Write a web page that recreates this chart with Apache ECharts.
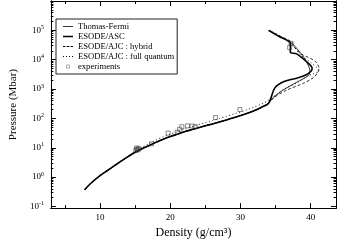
<!DOCTYPE html>
<html><head><meta charset="utf-8">
<script src="https://cdn.jsdelivr.net/npm/echarts@6/dist/echarts.min.js"></script>
<style>html,body{margin:0;padding:0;background:#fff}#c{width:338px;height:244px}</style>
</head><body><div id="c"></div>
<script>
// Shared lower branch (density g/cm3, pressure Mbar)
const lowX = [7.8, 8.5, 9, 10, 11, 12, 13, 14, 15, 16, 17, 18, 19, 20, 21, 22, 23, 24, 25, 26, 27, 28, 29, 30, 31, 32, 33, 34];
const lowP = [0.37, 0.56, 0.72, 1.12, 1.65, 2.4, 3.5, 5.0, 7.0, 9.3, 12, 15.5, 19.5, 24, 29, 35, 41, 48, 56, 65, 76, 89, 105, 125, 150, 185, 240, 330];
// Upper branches
const tfUpX = [34.6, 36, 38, 39.6, 39.9, 39.3, 38.3, 37.3, 35.5, 34.0];
const tfUpP = [500, 900, 1700, 2800, 4000, 9300, 20000, 36000, 62000, 100000];
const ascUpX = [34.9, 36.2, 38.0, 39.3, 40.1, 40.2, 39.9, 38.0, 37.1, 37.1, 35.5, 34.0];
const ascUpP = [1100, 1800, 2350, 3000, 4200, 5200, 6700, 15800, 17800, 36000, 62000, 100000];
const hybUpX = [34.8, 36.5, 39.0, 40.5, 41.2, 40.6, 38.6, 37.6, 37.3, 35.6, 34.1];
const hybUpP = [520, 900, 1600, 2600, 5000, 9000, 16000, 28000, 40000, 65000, 100000];
const fqLowX = [7.8, 8.5, 9, 10, 11, 12, 13, 14, 15, 16, 17, 18, 19, 20, 21, 22, 23, 24, 25, 26, 27, 28, 29, 30, 31, 32, 33, 34];
const fqLowP = [0.37, 0.56, 0.72, 1.12, 1.65, 2.45, 3.6, 5.2, 7.5, 10.5, 14, 18.5, 23.5, 29, 35, 43, 51, 61, 72, 85, 100, 118, 140, 165, 200, 245, 310, 420];
const fqUpX = [36.2, 38.0, 39.3, 40.5, 41.1, 41.0, 40.0, 38.5, 37.5, 35.6, 34.2];
const fqUpP = [1000, 1600, 2600, 3400, 3900, 5000, 8000, 15000, 30000, 64000, 100000];
// Experiments
const expX = [15.1, 15.3, 15.5, 15.2, 15.4, 17.33, 19.69, 20.99, 21.33, 21.65, 22.45, 23.12, 23.56, 26.45, 29.92, 37.2, 37.0];
const expP = [8.2, 8.9, 9.5, 9.8, 8.5, 13.6, 31.6, 34, 42.6, 52, 56, 55, 52, 107, 200, 36000, 26000];
// Ticks
const xMajor = [10, 20, 30, 40];
const xMinor = [5, 15, 25, 35];
const yMajor = [0.1, 1, 10, 100, 1000, 10000, 100000];
const yMinor = [];
for (let e = -1; e < 6; e++) for (let m = 2; m <= 9; m++) yMinor.push(m * Math.pow(10, e));

const zip = (xs, ys) => xs.map((x, i) => [x, ys[i]]);
const FONT = '"Liberation Serif", "DejaVu Serif", serif';
const ink = '#000';
const tfData = zip(lowX, lowP).concat(zip(tfUpX, tfUpP));
const ascData = zip(lowX, lowP).concat(zip(ascUpX, ascUpP));
const hybData = zip(lowX, lowP).concat(zip(hybUpX, hybUpP));
const fqData = zip(fqLowX, fqLowP).concat(zip(fqUpX, fqUpP));

const XMIN = 3, XMAX = 43.6, YMIN = 0.088, YMAX = 1e6;
function xAx(pos, ticks, len, labels, extra) {
  return Object.assign({
    type: 'value', position: pos, min: XMIN, max: XMAX,
    axisLine: { show: true, onZero: false, lineStyle: { color: ink, width: 1 } },
    axisTick: { show: true, inside: true, length: len, customValues: ticks, lineStyle: { color: ink } },
    axisLabel: labels ? { show: true, customValues: ticks, margin: 5, fontFamily: FONT, fontSize: 9, color: ink } : { show: false },
    splitLine: { show: false }
  }, extra || {});
}
function yAx(pos, ticks, len, labels, extra) {
  return Object.assign({
    type: 'log', logBase: 10, position: pos, min: YMIN, max: YMAX,
    axisLine: { show: true, onZero: false, lineStyle: { color: ink, width: 1 } },
    axisTick: { show: true, inside: true, length: len, customValues: ticks, lineStyle: { color: ink } },
    axisLabel: labels ? {
      show: true, customValues: ticks, margin: 7, fontFamily: FONT, color: ink,
      formatter: v => '{b|10}{s|' + Math.round(Math.log10(v)) + '}',
      rich: { b: { fontSize: 9, fontFamily: FONT, color: ink }, s: { fontSize: 6, fontFamily: FONT, color: ink, padding: [0, 0, 6, 0] } }
    } : { show: false },
    splitLine: { show: false }, minorTick: { show: false }
  }, extra || {});
}
// legend line icons (box 20x16, scaled to 10x8)
const B = 'path://M0,0M20,16';
const iconThin = B + 'M0,7.2h20v1.6h-20z';
const iconThick = B + 'M0,6.5h20v3h-20z';
const iconDash = B + 'M0,7.2h5v1.6h-5zM7.5,7.2h5v1.6h-5zM15,7.2h5v1.6h-5z';
const iconDot = B + 'M0,7.2h2v1.6h-2zM6,7.2h2v1.6h-2zM12,7.2h2v1.6h-2zM18,7.2h2v1.6h-2z';
const iconSq = B + 'M6.5,4.5h7v7h-7zM7.5,5.5v5h5v-5z';

const chart = echarts.init(document.getElementById('c'), null, { renderer: 'canvas' });
chart.setOption({
  animation: false,
  backgroundColor: '#fff',
  grid: { left: 31, right: 2, top: 1, bottom: 30, containLabel: false },
  xAxis: [
    xAx('bottom', xMajor, 5, true, { name: 'Density (g/cm³)', nameLocation: 'middle', nameGap: 18, nameTextStyle: { fontFamily: FONT, fontSize: 12, color: ink } }),
    xAx('bottom', xMinor, 3, false),
    xAx('top', xMajor, 5, false),
    xAx('top', xMinor, 3, false)
  ],
  yAxis: [
    yAx('left', yMajor, 5, true, { name: 'Pressure (Mbar)', nameLocation: 'middle', nameGap: 18, nameRotate: 90, nameTextStyle: { fontFamily: FONT, fontSize: 11, color: ink } }),
    yAx('left', yMinor, 2.5, false),
    yAx('right', yMajor, 5, false),
    yAx('right', yMinor, 2.5, false)
  ],
  legend: {
    orient: 'vertical', left: 56, top: 19,
    padding: [3, 3, 3, 7], itemGap: 1, itemWidth: 10, itemHeight: 8,
    borderColor: '#222', borderWidth: 1, borderRadius: 0,
    textStyle: { fontFamily: FONT, fontSize: 8.6, color: ink, lineHeight: 9 },
    data: [
      { name: 'Thomas-Fermi', icon: iconThin },
      { name: 'ESODE/ASC', icon: iconThick },
      { name: 'ESODE/AJC : hybrid', icon: iconDash },
      { name: 'ESODE/AJC : full quantum', icon: iconDot },
      { name: 'experiments', icon: iconSq, itemStyle: { color: '#333', borderWidth: 0 } }
    ]
  },
  series: [
    { name: 'Thomas-Fermi', type: 'line', data: tfData, symbol: 'none', smooth: 0.3, lineStyle: { color: ink, width: 0.8 }, itemStyle: { color: ink } },
    { name: 'ESODE/ASC', type: 'line', data: ascData, symbol: 'none', smooth: 0.3, lineStyle: { color: ink, width: 1.6 }, itemStyle: { color: ink } },
    { name: 'ESODE/AJC : hybrid', type: 'line', data: hybData, symbol: 'none', smooth: 0.3, lineStyle: { color: ink, width: 0.8, type: [3, 2] }, itemStyle: { color: ink } },
    { name: 'ESODE/AJC : full quantum', type: 'line', data: fqData, symbol: 'none', smooth: 0.3, lineStyle: { color: ink, width: 0.9, type: [1, 2.5] }, itemStyle: { color: ink } },
    { name: 'experiments', type: 'scatter', data: zip(expX, expP), symbol: 'rect', symbolSize: 4, itemStyle: { color: 'rgba(255,255,255,0)', borderColor: '#333', borderWidth: 0.7 }, z: 5 }
  ]
});
</script></body></html>
